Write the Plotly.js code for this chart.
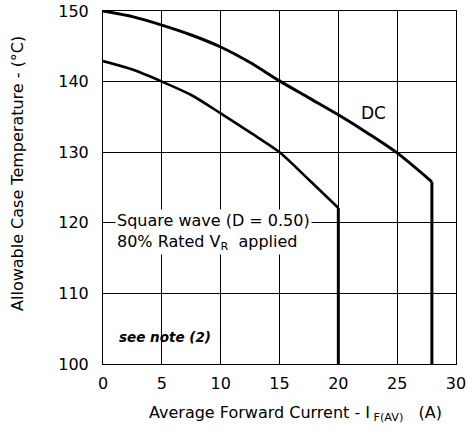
<!DOCTYPE html>
<html><head><meta charset="utf-8">
<script src="https://cdn.plot.ly/plotly-3.0.1.min.js"></script>
<style>html,body{margin:0;padding:0;background:#fff}</style>
</head><body><div id="chart" style="width:467px;height:437px"></div>
<script>
// DC curve (then vertical drop to the axis at its last x)
const dcX = [0, 2.5, 5, 7.5, 10, 12.5, 15, 17.5, 20, 22.5, 25, 27.95];
const dcY = [150, 149.2, 148, 146.6, 144.9, 142.7, 140.1, 137.7, 135.3, 132.7, 129.9, 125.8];
// Square wave (D = 0.50) curve
const sqX = [0, 2.5, 5, 7.5, 10, 12.5, 15, 17.5, 20];
const sqY = [142.9, 141.7, 140, 138.1, 135.5, 132.8, 130, 126.1, 122.1];
const xTicks = [0, 5, 10, 15, 20, 25, 30];
const yTicks = [100, 110, 120, 130, 140, 150];
const yMin = 100;

const FONT = "DejaVu Sans, Liberation Sans, sans-serif";
const last = a => a[a.length - 1];
const data = [
  {x: dcX, y: dcY, mode: 'lines', line: {color: '#000', width: 3, shape: 'spline', smoothing: 0.8}, hoverinfo: 'skip'},
  {x: [last(dcX), last(dcX)], y: [last(dcY), yMin], mode: 'lines', line: {color: '#000', width: 3}, hoverinfo: 'skip'},
  {x: sqX, y: sqY, mode: 'lines', line: {color: '#000', width: 2.6, shape: 'spline', smoothing: 0.8}, hoverinfo: 'skip'},
  {x: [last(sqX), last(sqX)], y: [last(sqY), yMin], mode: 'lines', line: {color: '#000', width: 3}, hoverinfo: 'skip'}
];
const layout = {
  width: 467, height: 437,
  margin: {l: 103, r: 11, t: 11, b: 73},
  paper_bgcolor: '#fff', plot_bgcolor: '#fff',
  showlegend: false,
  font: {family: FONT, color: '#000', size: 15},
  xaxis: {range: [0, 30], tickvals: xTicks, ticks: '', showgrid: true, gridcolor: '#000', gridwidth: 1,
          zeroline: false, showline: true, linecolor: '#000', linewidth: 1, mirror: true,
          tickfont: {size: 16, family: FONT}, ticklabelstandoff: 5, fixedrange: true},
  yaxis: {range: [100, 150], tickvals: yTicks, ticks: '', showgrid: true, gridcolor: '#000', gridwidth: 1,
          zeroline: false, showline: true, linecolor: '#000', linewidth: 1, mirror: true,
          tickfont: {size: 16, family: FONT}, ticklabelstandoff: 10, fixedrange: true},
  annotations: [
    {x: 23.0, y: 135.6, xref: 'x', yref: 'y', text: 'DC', showarrow: false, font: {size: 17}},
    {x: 1.05, y: 121.9, xref: 'x', yref: 'y', xanchor: 'left', yanchor: 'top', align: 'left',
     text: 'Square wave (D = 0.50)<br>80% Rated V<sub>R</sub>  applied', showarrow: false,
     bgcolor: '#fff', borderpad: 1, font: {size: 16}},
    {x: 1.15, y: 103.8, xref: 'x', yref: 'y', xanchor: 'left', text: '<b><i>see note (2)</i></b>',
     showarrow: false, font: {size: 13.5}},
    {x: 0.544, y: -0.105, xref: 'paper', yref: 'paper', yanchor: 'top', xanchor: 'center',
     text: 'Average Forward Current - I<sub> F(AV)</sub>   (A)', showarrow: false, font: {size: 16}},
    {x: -0.242, y: 0.54, xref: 'paper', yref: 'paper', textangle: -90, xanchor: 'center', yanchor: 'middle',
     text: 'Allowable Case Temperature - (°C)', showarrow: false, font: {size: 16}}
  ]
};
Plotly.newPlot('chart', data, layout, {staticPlot: true});
</script></body></html>
